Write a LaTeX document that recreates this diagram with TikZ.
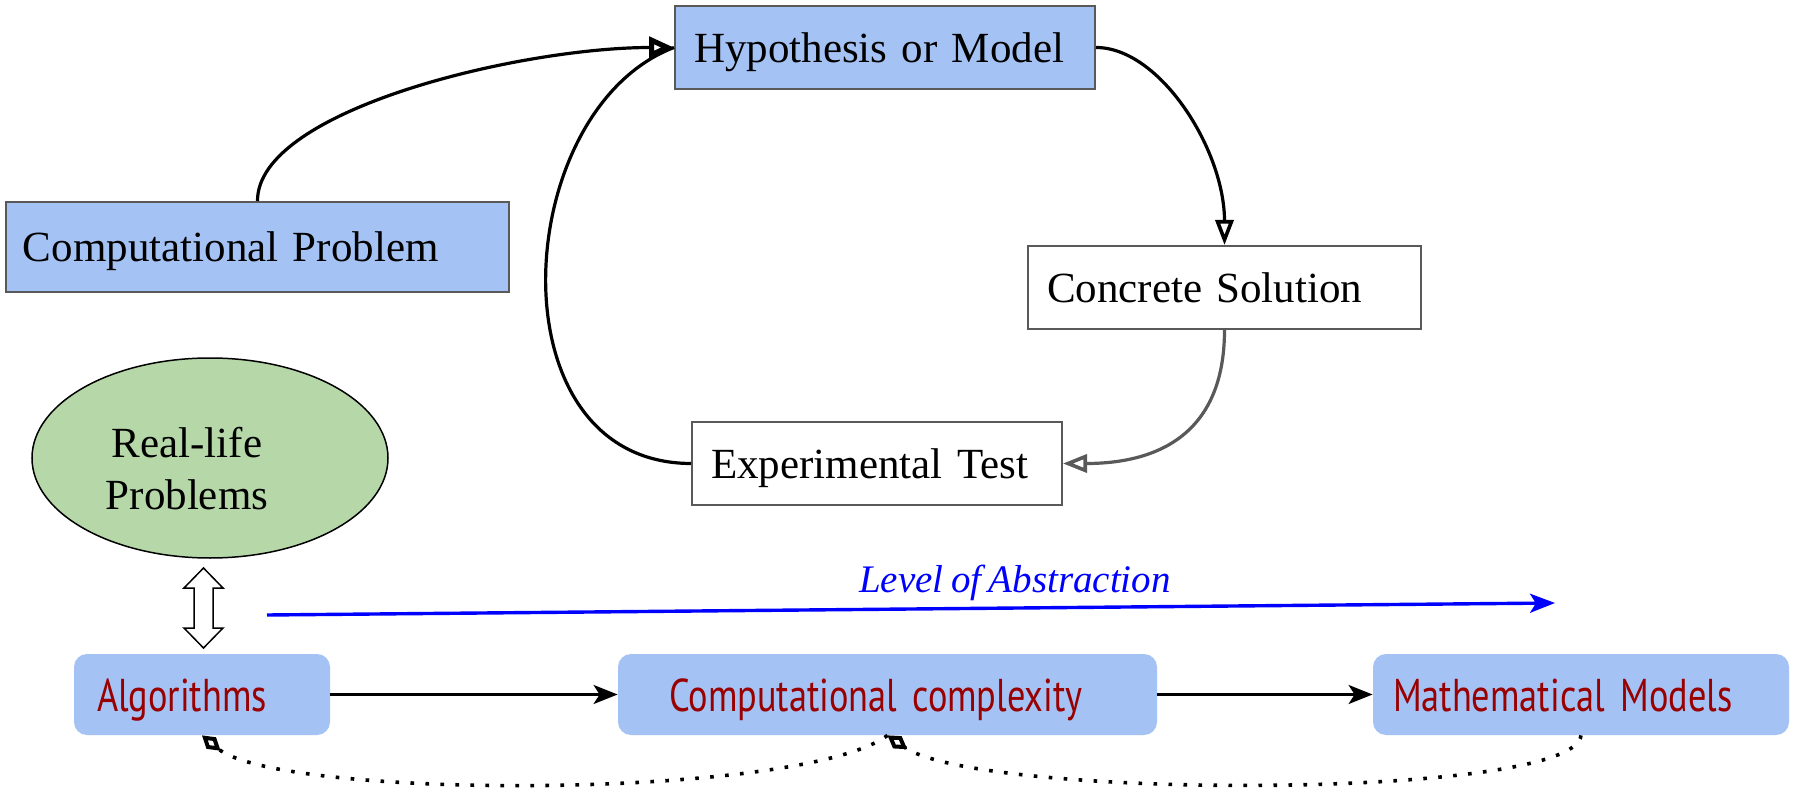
\documentclass[tikz,border=0pt]{standalone}
\usepackage{fontspec}
\setmainfont[WordSpace=0.75]{Liberation Serif}
\newfontfamily\bfnt[FakeStretch=0.79]{PT Sans}
\usetikzlibrary{arrows.meta,shapes.geometric}
\definecolor{boxblue}{HTML}{A4C2F4}
\definecolor{boxgreen}{HTML}{B6D7A8}
\definecolor{darkred}{HTML}{990000}
\definecolor{edgegray}{HTML}{595959}
\begin{document}
\begin{tikzpicture}[x=0.5pt,y=-0.5pt,
  topbox/.style={rectangle, draw=edgegray, line width=1pt, inner ysep=0pt,
    minimum height=41.5pt, align=left, text height=15pt, text depth=0pt,
    font=\fontsize{21.5}{26}\selectfont},
  botbox/.style={rectangle, rounded corners=6.5pt, fill=boxblue, draw=none,
    inner ysep=0pt, minimum height=40.5pt, align=left, text=darkred,
    text height=16.5pt, text depth=0pt, font=\bfnt\fontsize{23}{27}\selectfont},
  conn/.style={line width=1.6pt},
  opentri/.style={-{Triangle[open,length=12.5pt,width=9pt,line width=1.8pt]}},
  solidarr/.style={line width=1.5pt,-{Stealth[length=12pt,width=9.5pt,inset=3pt]}},
  dotconn/.style={line width=1.8pt, dash pattern=on 1.8pt off 5.7pt,
    -{Diamond[open,length=12pt,width=7.5pt,line width=2pt]}}
]
\path[use as bounding box, fill=white] (0,0) rectangle (1794,791);

% top boxes
\node[topbox, fill=boxblue, inner xsep=9.5pt, text width=191pt] (hyp) at (885,47.5) {Hypothesis or Model};
\node[topbox, fill=boxblue, inner xsep=8.5pt, text width=234.5pt, minimum height=45pt] (cp) at (257.5,247) {Computational Problem};
\node[topbox, fill=white, inner xsep=9.5pt, text width=177.5pt] (cs) at (1224.5,287.5) {Concrete Solution};
\node[topbox, fill=white, inner xsep=9.5pt, text width=166pt] (et) at (877,463.5) {Experimental Test};

% ellipse
\node[ellipse, draw, line width=0.75pt, fill=boxgreen, minimum width=178pt, minimum height=100pt, inner sep=0pt] (ell) at (210,458) {};
\node[align=center, inner sep=0pt, font=\fontsize{21.5}{26}\selectfont] (ellt) at (187,469) {Real-life\\Problems};

% bottom boxes
\node[botbox, inner xsep=11.5pt, text width=105pt] (alg) at (202,694.5) {Algorithms};
\node[botbox, inner xsep=25.5pt, text width=218.5pt] (cc) at (887.5,694.5) {Computational complexity};
\node[botbox, inner xsep=10pt, text width=188pt] (mm) at (1581,694.5) {Mathematical Models};

% top connectors
\draw[conn] (et.west) .. controls (490,463) and (510,110) .. (hyp.west);
\draw[conn,-{Triangle[open,length=12.5pt,width=10.5pt,line width=2.6pt]}] (cp.north) .. controls (257,110) and (520,47.5) .. (hyp.west);
\draw[conn,opentri] (hyp.east) .. controls (1160,47.5) and (1224.5,150) .. (cs.north);
\draw[conn,edgegray,-{Triangle[open,length=12pt,width=9pt,line width=1.8pt]}] (cs.south) .. controls (1224.5,440) and (1150,463.5) .. (et.east);

% double arrow between ellipse and algorithms
\draw[line width=0.75pt, fill=white] (203.5,568) -- (223,588) -- (213,588) -- (213,628) -- (223,628) -- (203.5,648) -- (184,628) -- (194,628) -- (194,588) -- (184,588) -- cycle;

% level of abstraction
\coordinate (la) at (267,615);
\coordinate (lb) at (1555,603);
\draw[blue, line width=1.7pt, -{Stealth[length=12.5pt,width=9.5pt,inset=3pt]}] (la) -- (lb);
\node[text=blue, anchor=base, inner sep=0pt, font=\itshape\fontsize{19.5}{23}\selectfont] (lvl) at (1015,592) {Level of Abstraction};

% bottom arrows
\draw[solidarr] (alg.east) -- (cc.west);
\draw[solidarr] (cc.east) -- (mm.west);

% dotted
\draw[dotconn] (mm.south) .. controls (1575,800) and (980,800) .. (cc.south);
\draw[dotconn] (cc.south) .. controls (800,800) and (280,800) .. (alg.south);
\end{tikzpicture}
\end{document}
